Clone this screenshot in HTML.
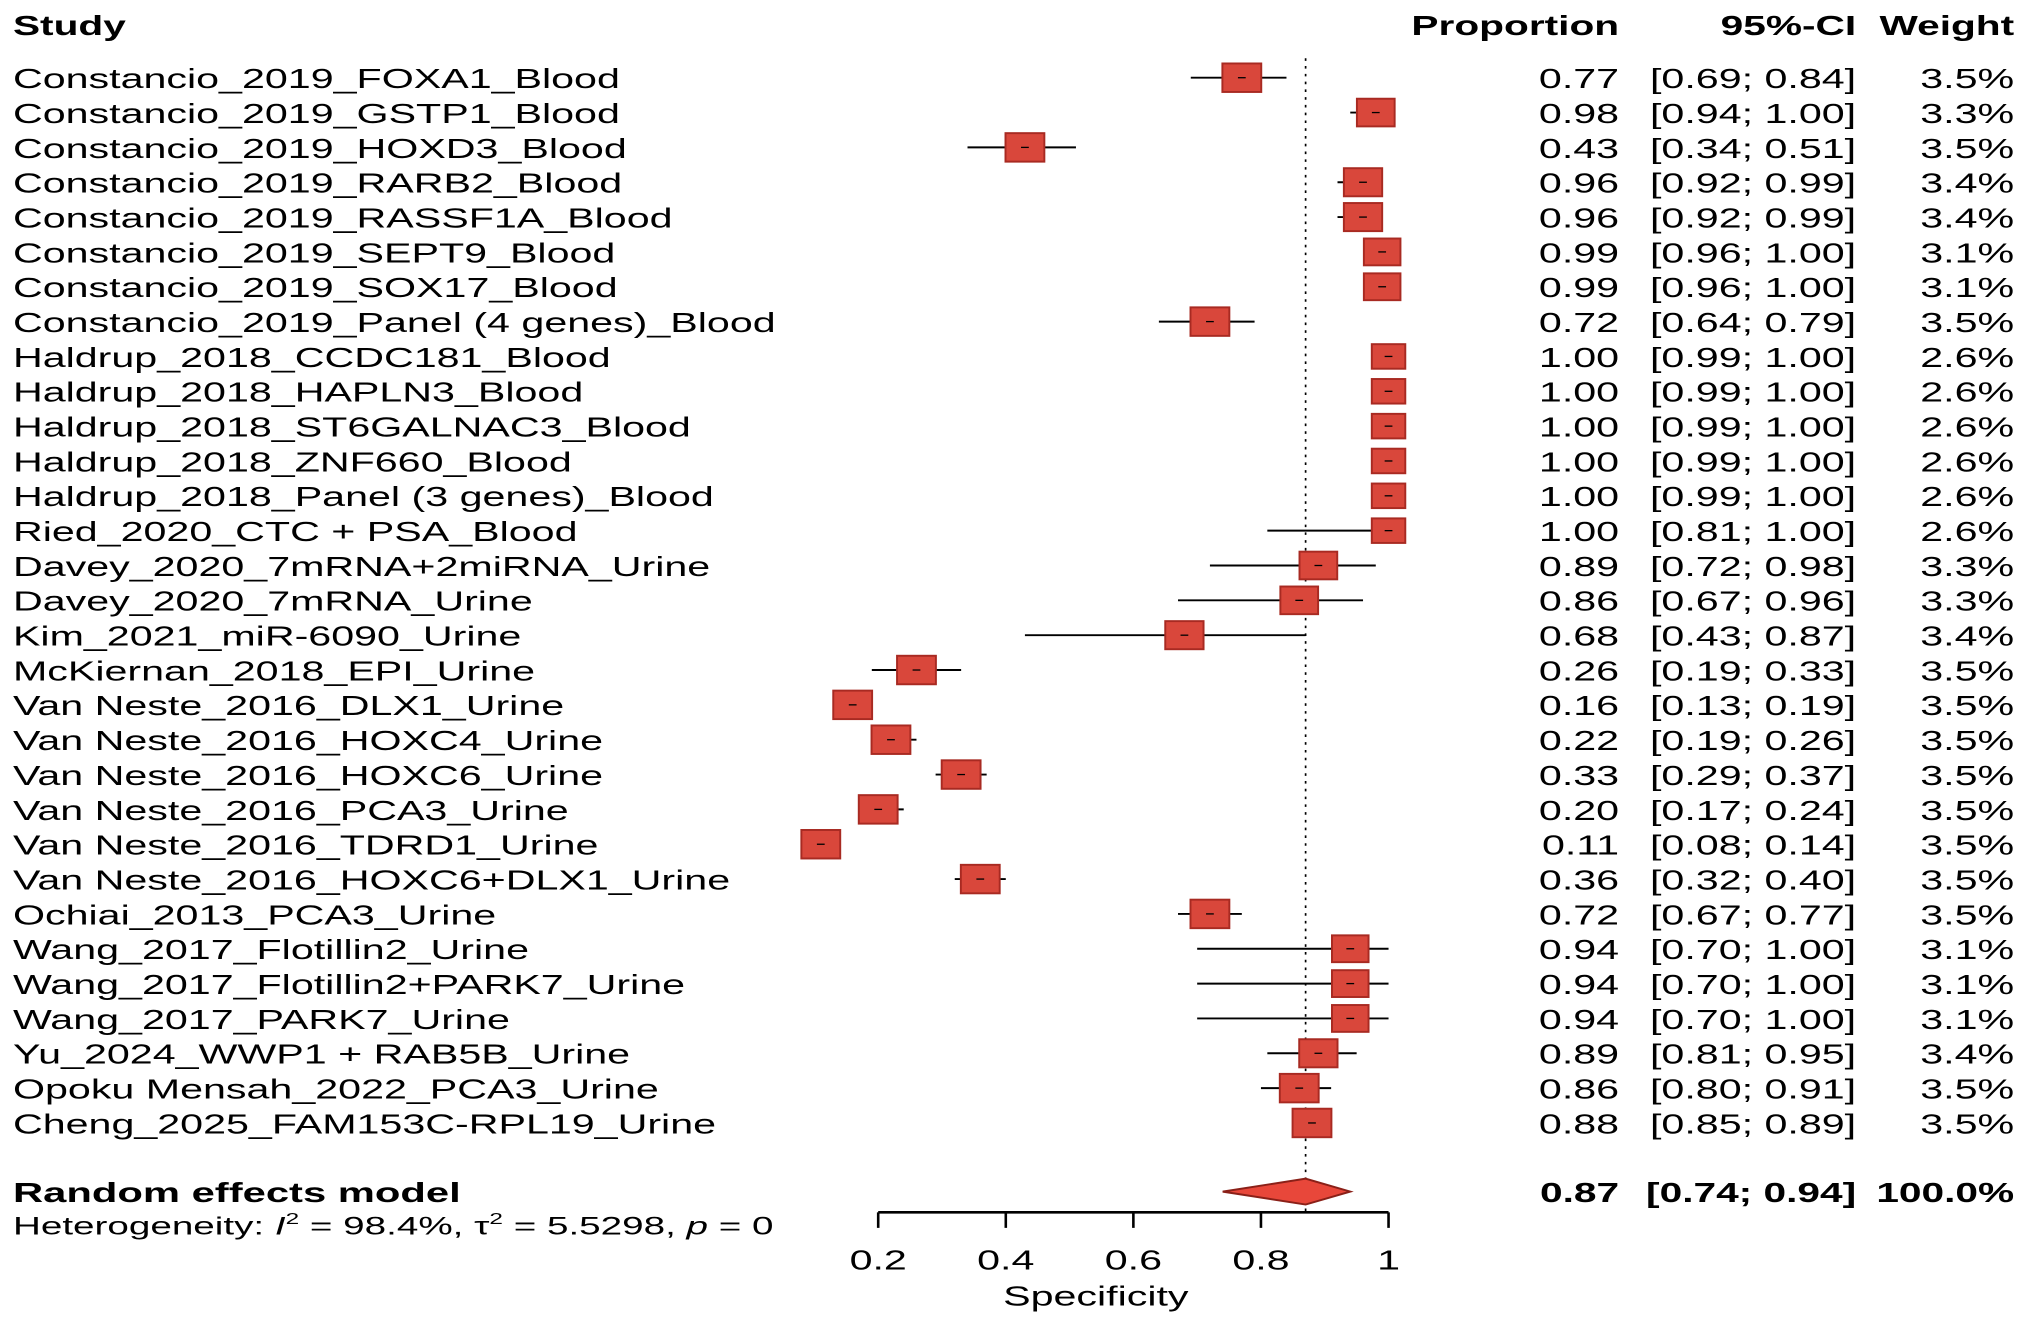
<!DOCTYPE html>
<html><head><meta charset="utf-8"><style>
html,body{margin:0;padding:0;background:#fff;}
svg{display:block;}
text{font-family:"Liberation Sans",Arial,sans-serif;fill:#000;}
</style></head><body>
<svg id="chart" width="2031" height="1328" viewBox="0 0 1568 1025.3" preserveAspectRatio="none" xmlns="http://www.w3.org/2000/svg">
<g id="g"></g>
</svg>
<script>
const studies = ["Constancio_2019_FOXA1_Blood","Constancio_2019_GSTP1_Blood","Constancio_2019_HOXD3_Blood","Constancio_2019_RARB2_Blood","Constancio_2019_RASSF1A_Blood","Constancio_2019_SEPT9_Blood","Constancio_2019_SOX17_Blood","Constancio_2019_Panel (4 genes)_Blood","Haldrup_2018_CCDC181_Blood","Haldrup_2018_HAPLN3_Blood","Haldrup_2018_ST6GALNAC3_Blood","Haldrup_2018_ZNF660_Blood","Haldrup_2018_Panel (3 genes)_Blood","Ried_2020_CTC + PSA_Blood","Davey_2020_7mRNA+2miRNA_Urine","Davey_2020_7mRNA_Urine","Kim_2021_miR-6090_Urine","McKiernan_2018_EPI_Urine","Van Neste_2016_DLX1_Urine","Van Neste_2016_HOXC4_Urine","Van Neste_2016_HOXC6_Urine","Van Neste_2016_PCA3_Urine","Van Neste_2016_TDRD1_Urine","Van Neste_2016_HOXC6+DLX1_Urine","Ochiai_2013_PCA3_Urine","Wang_2017_Flotillin2_Urine","Wang_2017_Flotillin2+PARK7_Urine","Wang_2017_PARK7_Urine","Yu_2024_WWP1 + RAB5B_Urine","Opoku Mensah_2022_PCA3_Urine","Cheng_2025_FAM153C-RPL19_Urine"];
const props = [0.77,0.98,0.43,0.96,0.96,0.99,0.99,0.72,1.00,1.00,1.00,1.00,1.00,1.00,0.89,0.86,0.68,0.26,0.16,0.22,0.33,0.20,0.11,0.36,0.72,0.94,0.94,0.94,0.89,0.86,0.88];
const lows = [0.69,0.94,0.34,0.92,0.92,0.96,0.96,0.64,0.99,0.99,0.99,0.99,0.99,0.81,0.72,0.67,0.43,0.19,0.13,0.19,0.29,0.17,0.08,0.32,0.67,0.70,0.70,0.70,0.81,0.80,0.85];
const highs = [0.84,1.00,0.51,0.99,0.99,1.00,1.00,0.79,1.00,1.00,1.00,1.00,1.00,1.00,0.98,0.96,0.87,0.33,0.19,0.26,0.37,0.24,0.14,0.40,0.77,1.00,1.00,1.00,0.95,0.91,0.89];
const weights = [3.5,3.3,3.5,3.4,3.4,3.1,3.1,3.5,2.6,2.6,2.6,2.6,2.6,2.6,3.3,3.3,3.4,3.5,3.5,3.5,3.5,3.5,3.5,3.5,3.5,3.1,3.1,3.1,3.4,3.5,3.5];
const pooled = [0.87,0.74,0.94];
const ticks = [0.2,0.4,0.6,0.8,1];
const tickLabels = ["0.2","0.4","0.6","0.8","1"];

const NS="http://www.w3.org/2000/svg";
const g=document.getElementById('g');
const X0=678, X1=1072;
const xs=v=>X0+(v-0.2)/(0.8)*(X1-X0);
const ys=i=>60+i*26.9;
const SX=1.48;
const SB=1.46;
function el(tag,attrs){const e=document.createElementNS(NS,tag);for(const k in attrs)e.setAttribute(k,attrs[k]);g.appendChild(e);return e;}
function txt(s,x,y,anchor,bold,size,name,sx){
  const t=el('text',{transform:`translate(${x},${y}) scale(${sx||SX},1)`,'text-anchor':anchor,'font-size':size||21.5,'font-weight':bold?'bold':'normal'});
  
  
  t.textContent=s;return t;
}
const fmt=v=>v.toFixed(2);
txt("Study",10,27,'start',true,21.5,'study-header',SB);
txt("Proportion",1250,27,'end',true,21.5,'proportion-header',SB);
txt("95%-CI",1433,27,'end',true,21.5,'ci-header',SB);
txt("Weight",1555,27,'end',true,21.5,'weight-header',SB);

// reference dotted line
const dl=el('line',{x1:xs(pooled[0]),x2:xs(pooled[0]),y1:45,y2:936,stroke:'#000','stroke-width':1.3,'stroke-dasharray':'2,4'});



studies.forEach((s,i)=>{
  const y=ys(i);
  txt(s,10,y+8,'start',false,21.5,'study-label');
  txt(fmt(props[i]),1250,y+8,'end',false,21.5,'proportion-value');
  txt('['+fmt(lows[i])+'; '+fmt(highs[i])+']',1433,y+8,'end',false,21.5,'ci-value');
  txt(weights[i].toFixed(1)+'%',1555,y+8,'end',false,21.5,'weight-value');
  const ci=el('line',{x1:xs(lows[i]),x2:xs(highs[i]),y1:y,y2:y,stroke:'#000','stroke-width':1.5});
  
  
  const f=Math.sqrt(weights[i]/3.5);
  const w=30*f,h=22*f;
  const r=el('rect',{x:xs(props[i])-w/2,y:y-h/2,width:w,height:h,fill:'#d9473b',stroke:'#a82a22','stroke-width':1.5});
  
  
  const c=el('line',{x1:xs(props[i])-3,x2:xs(props[i])+3,y1:y,y2:y,stroke:'#000','stroke-width':1});
  
  
});

// pooled
const py=920;
txt("Random effects model",10,py+8,'start',true,21.5,'random-effects-label',1.5);
txt(fmt(pooled[0]),1250,py+8,'end',true,21.5,'pooled-proportion',SB);
txt('['+fmt(pooled[1])+'; '+fmt(pooled[2])+']',1433,py+8,'end',true,21.5,'pooled-ci',SB);
txt('100.0%',1555,py+8,'end',true,21.5,'pooled-weight',SB);
const d=el('polygon',{points:`${xs(pooled[1])},${py} ${xs(pooled[0])},${py-10} ${xs(pooled[2])},${py} ${xs(pooled[0])},${py+10}`,fill:'#e8473a',stroke:'#8a2018','stroke-width':1.5});



// heterogeneity
const ht=el('text',{transform:`translate(10,${py+33}) scale(1.57,1)`,'font-size':19});


ht.innerHTML='Heterogeneity: <tspan font-style="italic">I</tspan><tspan dy="-8" font-size="12">2</tspan><tspan dy="8"> = 98.4%, τ</tspan><tspan dy="-8" font-size="12">2</tspan><tspan dy="8"> = 5.5298, </tspan><tspan font-style="italic">p</tspan> = 0';

// axis
const ax=el('line',{x1:X0,x2:X1,y1:936,y2:936,stroke:'#000','stroke-width':2});


ticks.forEach((t,i)=>{
  const tl=el('line',{x1:xs(t),x2:xs(t),y1:936,y2:948,stroke:'#000','stroke-width':2});
  
  
  txt(tickLabels[i],xs(t),980,'middle',false,21.5,'x-tick-label');
});
txt("Specificity",846,1008,'middle',false,21.5,'x-axis-title');
</script>
</body></html>
